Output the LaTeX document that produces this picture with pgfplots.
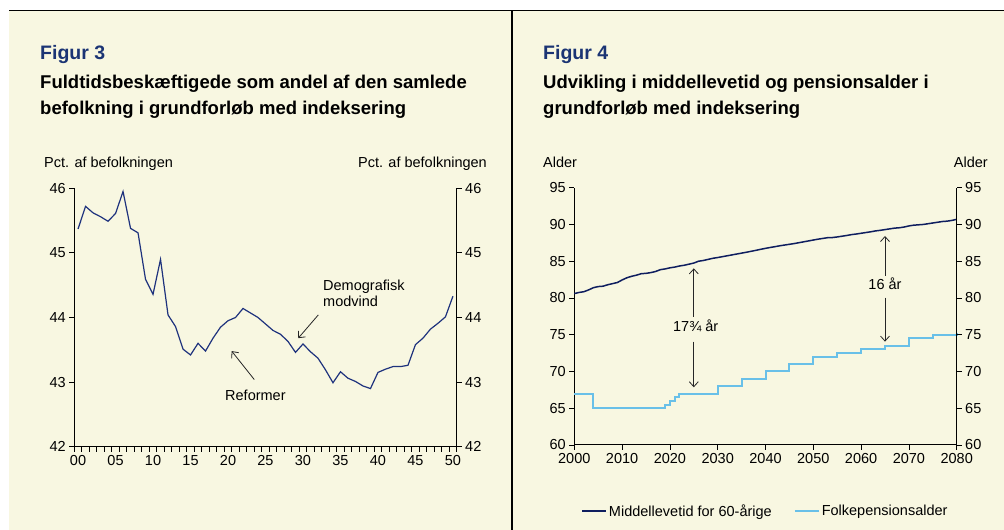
\documentclass[border=0pt]{standalone}
\usepackage{fontspec}
\setmainfont{Liberation Sans}
\usepackage{pgfplots}
\pgfplotsset{compat=1.18}
\usetikzlibrary{arrows.meta}
\definecolor{bg}{RGB}{248,247,225}
\definecolor{titleblue}{RGB}{27,52,116}
\definecolor{lineone}{RGB}{30,50,125}
\definecolor{navy}{RGB}{15,30,95}
\definecolor{lightb}{RGB}{105,192,232}
\newcommand\tf{\fontsize{14.5}{17}\selectfont}
\newcommand\hf{\fontsize{18.5}{22}\selectfont\bfseries}
\newcommand\ff{\fontsize{19.5}{23}\selectfont\bfseries\color{titleblue}}
\tikzset{ann/.style={-{Straight Barb[length=5pt,width=9pt]}, black!85, line width=0.8pt}}
\pgfplotsset{
  base/.style={
    scale only axis, width=382.4pt, height=258.4pt, anchor=south west,
    tick align=outside, major tick length=5pt, minor tick length=5pt,
    axis line style={-, black, line width=1pt},
    every outer x axis line/.append style={-},
    every outer y axis line/.append style={-},
    every inner x axis line/.append style={-},
    every inner y axis line/.append style={-},
    every tick/.style={black, line width=0.8pt},
    tick label style={font=\tf},
    /pgf/number format/assume math mode=true,
    clip=false,
  }
}
\begin{document}
\begin{tikzpicture}
\path[use as bounding box] (0,0) rectangle (1004pt,530pt);
\fill[white] (0,0) rectangle (1004pt,530pt);
\fill[bg] (9pt,0) rectangle (1004pt,519.5pt);
\draw[black, line width=1pt] (9pt,519.5pt) -- (1004pt,519.5pt);
\draw[black, line width=1.8pt] (512pt,0) -- (512pt,519.5pt);

% titles
\node[anchor=base west, inner sep=0] at (40pt,470.7pt) {\ff Figur 3};
\node[anchor=base west, inner sep=0] at (40pt,441.5pt) {\hf Fuldtidsbeskæftigede som andel af den samlede};
\node[anchor=base west, inner sep=0] at (40pt,415pt) {\hf befolkning i grundforløb med indeksering};
\node[anchor=base west, inner sep=0] at (543pt,470.7pt) {\ff Figur 4};
\node[anchor=base west, inner sep=0] at (543pt,441.5pt) {\hf Udvikling i middellevetid og pensionsalder i};
\node[anchor=base west, inner sep=0] at (543pt,415pt) {\hf grundforløb med indeksering};
\node[anchor=base west, inner sep=0] at (44pt,362.7pt) {\tf Pct. af befolkningen};
\node[anchor=base east, inner sep=0] at (487pt,362.7pt) {\tf Pct. af befolkningen};
\node[anchor=base west, inner sep=0] at (543pt,362.7pt) {\tf Alder};
\node[anchor=base east, inner sep=0] at (988pt,362.7pt) {\tf Alder};

% ---------- Figur 3 ----------
\begin{axis}[base, at={(74.3pt,83.3pt)},
  xmin=-0.5, xmax=50.5, ymin=42, ymax=46,
  axis x line*=bottom, axis y line*=left,
  xtick={0,5,...,50},
  xticklabels={00,05,10,15,20,25,30,35,40,45,50},
  major x tick style={draw=none},
  minor xtick={-0.5,0.5,...,50.5},
  ytick={42,43,44,45,46},
]
\addplot[lineone, line width=1.2pt] coordinates {
(0,45.37) (1,45.72) (2,45.62) (3,45.56) (4,45.49) (5,45.61) (6,45.95) (7,45.38)
(8,45.31) (9,44.59) (10,44.36) (11,44.90) (12,44.04) (13,43.86) (14,43.51)
(15,43.42) (16,43.60) (17,43.48) (18,43.68) (19,43.85) (20,43.95) (21,44.00)
(22,44.14) (23,44.07) (24,44.00) (25,43.90) (26,43.80) (27,43.74) (28,43.63)
(29,43.46) (30,43.59) (31,43.47) (32,43.37) (33,43.19) (34,42.99) (35,43.16)
(36,43.06) (37,43.01) (38,42.94) (39,42.90) (40,43.15) (41,43.20) (42,43.24)
(43,43.24) (44,43.26) (45,43.58) (46,43.68) (47,43.82) (48,43.91) (49,44.01)
(50,44.33)};
\draw[ann] (axis cs:32.04,44.04) -- (axis cs:29.37,43.68);
\draw[ann] (axis cs:23.5,43.04) -- (axis cs:20.49,43.48);
\node[anchor=base west, inner sep=0] at (axis cs:32.67,44.415) {\tf Demografisk};
\node[anchor=base west, inner sep=0] at (axis cs:32.67,44.167) {\tf modvind};
\node[anchor=base west, inner sep=0] at (axis cs:19.6,42.72) {\tf Reformer};
\end{axis}
\begin{axis}[base, at={(74.3pt,83.3pt)},
  xmin=-0.5, xmax=50.5, ymin=42, ymax=46,
  axis x line=none, axis y line*=right,
  ytick={42,43,44,45,46},
]
\addplot[draw=none] coordinates {(0,44)};
\end{axis}

% ---------- Figur 4 ----------
\begin{axis}[base, at={(574.3pt,85pt)}, height=257.3pt,
  xmin=2000, xmax=2080, ymin=60, ymax=95,
  axis x line*=bottom, axis y line*=left,
  xtick={2000,2010,...,2080},
  xticklabels={2000,2010,2020,2030,2040,2050,2060,2070,2080},
  ytick={60,65,...,95},
  legend style={at={(0.5,-0.2565)}, anchor=center, draw=none, fill=none,
    legend columns=2, font=\tf,
    /tikz/every even column/.append style={column sep=20pt}},
  legend cell align=left,
  legend image code/.code={\draw[#1] (0pt,0pt) -- (24pt,0pt);},
]
\addplot[navy, line width=1.5pt] coordinates {
(2000,80.6) (2001,80.75) (2002,80.85) (2003,81.1) (2004,81.4) (2005,81.55)
(2006,81.6) (2007,81.8) (2008,81.95) (2009,82.1) (2010,82.45) (2011,82.75)
(2012,82.95) (2013,83.1) (2014,83.3) (2015,83.35) (2016,83.45) (2017,83.6)
(2018,83.85) (2019,83.95) (2020,84.1) (2021,84.2) (2022,84.35) (2023,84.45)
(2024,84.6) (2025,84.75) (2026,85.0) (2027,85.1) (2028,85.25) (2029,85.4)
(2030,85.5) (2031,85.62) (2032,85.74) (2033,85.86) (2034,85.98) (2035,86.1)
(2036,86.22) (2037,86.35) (2038,86.48) (2039,86.62) (2040,86.75) (2041,86.87)
(2042,86.98) (2043,87.1) (2044,87.2) (2045,87.3) (2046,87.4) (2047,87.52)
(2048,87.64) (2049,87.76) (2050,87.88) (2051,88.0) (2052,88.1) (2053,88.2)
(2054,88.22) (2055,88.3) (2056,88.4) (2057,88.5) (2058,88.62) (2059,88.7)
(2060,88.8) (2061,88.9) (2062,89.0) (2063,89.12) (2064,89.2) (2065,89.3)
(2066,89.4) (2067,89.5) (2068,89.55) (2069,89.65) (2070,89.8) (2071,89.9)
(2072,89.95) (2073,90.0) (2074,90.1) (2075,90.2) (2076,90.3) (2077,90.4)
(2078,90.45) (2079,90.55) (2080,90.7)};
\addlegendentry{Middellevetid for 60-årige}
\addplot[lightb, line width=2pt, const plot] coordinates {
(2000,67) (2004,65) (2019,65.5) (2020,66) (2021,66.5) (2022,67) (2030,68)
(2035,69) (2040,70) (2045,71) (2050,72) (2055,72.5) (2060,73) (2065,73.5)
(2070,74.5) (2075,75) (2080,75.3)};
\addlegendentry{Folkepensionsalder}
\draw[ann] (axis cs:2025,77.45) -- (axis cs:2025,84.03);
\draw[ann] (axis cs:2025,74.06) -- (axis cs:2025,67.85);
\draw[ann] (axis cs:2065,83.0) -- (axis cs:2065,88.43);
\draw[ann] (axis cs:2065,80.04) -- (axis cs:2065,74.06);
\node[anchor=base, inner sep=0] at (axis cs:2025.4,75.41) {\tf 17¾ år};
\node[anchor=base, inner sep=0] at (axis cs:2065,81.09) {\tf 16 år};
\end{axis}
\begin{axis}[base, at={(574.3pt,85pt)}, height=257.3pt,
  xmin=2000, xmax=2080, ymin=60, ymax=95,
  axis x line=none, axis y line*=right,
  ytick={60,65,...,95},
]
\addplot[draw=none] coordinates {(2000,70)};
\end{axis}
\end{tikzpicture}
\end{document}
